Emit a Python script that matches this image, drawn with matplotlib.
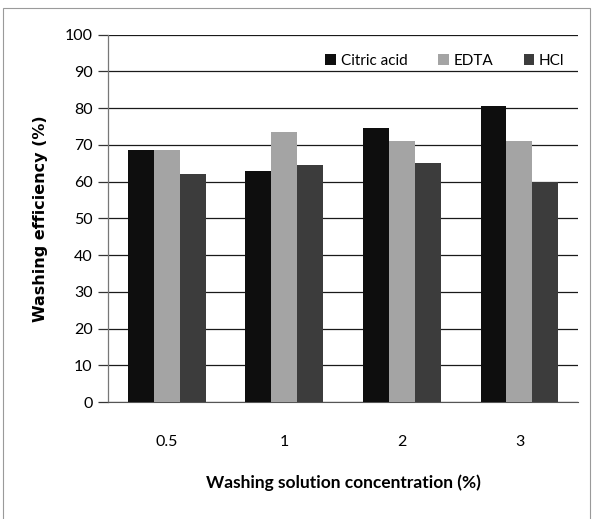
import matplotlib
matplotlib.use('Agg')
import matplotlib.pyplot as plt
import numpy as np
from matplotlib.patches import Rectangle

plt.rcParams['font.family'] = ['Lato', 'DejaVu Sans']

# ── Data ────────────────────────────────────────────
concentrations = ['0.5', '1', '2', '3']
citric_acid = [68.5, 63.0, 74.5, 80.5]
edta = [68.5, 73.5, 71.0, 71.0]
hcl = [62.0, 64.5, 65.0, 60.0]

series = [
    ('Citric acid', citric_acid, '#0e0e0e'),
    ('EDTA', edta, '#a4a4a4'),
    ('HCl', hcl, '#3c3c3c'),
]

# ── Figure ──────────────────────────────────────────
fig = plt.figure(figsize=(5.93, 5.19), dpi=100)
ax = fig.add_axes([0.182, 0.2254, 0.793, 0.7076])

# light outer frame round the whole chart
fig.patches.append(Rectangle((0.005, -0.01), 0.99, 0.995, transform=fig.transFigure,
                             fill=False, edgecolor='#9a9a9a', linewidth=0.8))

x = np.arange(len(concentrations))
width = 0.22
for i, (label, vals, color) in enumerate(series):
    ax.bar(x + (i - 1) * width, vals, width, color=color, label=label,
           edgecolor='none', zorder=3)

ax.set_ylim(0, 100)
ax.set_xlim(-0.5, len(concentrations) - 0.5)
ax.set_yticks(np.arange(0, 101, 10))
ax.set_xticks(x)
ax.set_xticklabels(concentrations)

ax.yaxis.grid(True, color='#1a1a1a', linewidth=0.9, zorder=0)
ax.set_axisbelow(True)

for side in ['top', 'right']:
    ax.spines[side].set_visible(False)
ax.spines['left'].set_color('#777777')
ax.spines['bottom'].set_color('#555555')
ax.spines['left'].set_linewidth(0.9)

ax.tick_params(axis='y', length=7, width=0.9, color='#333333', labelsize=11.5, pad=4)
ax.tick_params(axis='x', length=0, labelsize=11.5, pad=24)

ax.set_ylabel('Washing efficiency (%)', fontsize=11.5, fontweight='bold',
              family=['DejaVu Sans'], labelpad=12)
ax.set_xlabel('Washing solution concentration (%)', fontsize=12.5, fontweight='bold',
              labelpad=18)

ax.legend(loc='upper right', bbox_to_anchor=(1.0, 0.985), ncol=3, frameon=False,
          fontsize=11, handlelength=0.7, handleheight=0.7, handletextpad=0.3,
          columnspacing=2.0)

fig.savefig('out.png', dpi=100, facecolor='white')
